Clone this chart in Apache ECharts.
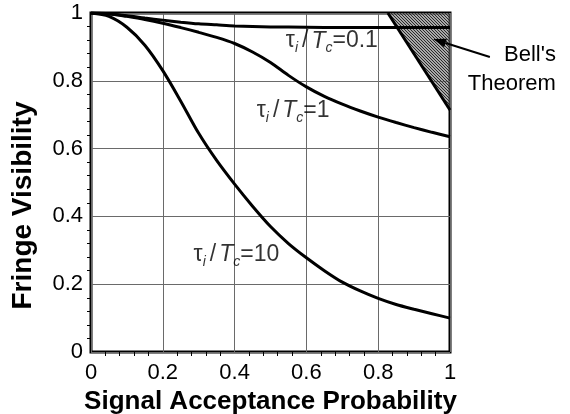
<!DOCTYPE html>
<html><head><meta charset="utf-8">
<script src="https://cdn.jsdelivr.net/npm/echarts@6/dist/echarts.min.js"></script>
<style>html,body{margin:0;padding:0;background:#fff}#c{width:570px;height:414px}</style>
</head><body><div id="c"></div>
<script>
// ---- data ----
const xTicks = [0, 0.2, 0.4, 0.6, 0.8, 1];
const yTicks = [0, 0.2, 0.4, 0.6, 0.8, 1];

const x01 = [0, 0.05, 0.1, 0.15, 0.2, 0.25, 0.3, 0.35, 0.4, 0.5, 0.6, 0.7, 0.8, 0.9, 1];
const v01 = [1, 0.997, 0.992, 0.985, 0.979, 0.973, 0.968, 0.965, 0.962, 0.959, 0.958, 0.957, 0.957, 0.957, 0.957];

const x1 = [0, 0.05, 0.1, 0.15, 0.2, 0.25, 0.3, 0.35, 0.4, 0.45, 0.5, 0.55, 0.6, 0.65, 0.7, 0.75, 0.8, 0.85, 0.9, 0.95, 1];
const v1 = [1, 0.998, 0.99, 0.981, 0.97, 0.957, 0.943, 0.928, 0.91, 0.885, 0.854, 0.816, 0.782, 0.754, 0.731, 0.711, 0.693, 0.677, 0.662, 0.648, 0.635];

const x10 = [0, 0.05, 0.1, 0.15, 0.2, 0.25, 0.3, 0.35, 0.4, 0.45, 0.5, 0.55, 0.6, 0.65, 0.7, 0.75, 0.8, 0.85, 0.9, 0.95, 1];
const v10 = [1, 0.99, 0.958, 0.905, 0.83, 0.74, 0.645, 0.565, 0.495, 0.43, 0.37, 0.32, 0.278, 0.24, 0.206, 0.18, 0.158, 0.14, 0.126, 0.113, 0.10];

const xBell = [0.827, 1];
const vBell = [1, 0.714];

const ratioLabels = ['0.1', '1', '10'];
const labelAnchors = [[0.671, 0.917], [0.563, 0.712], [0.405, 0.287]];

const bellText = ["Bell's", 'Theorem'];
const bellTextAnchors = [[1.295, 0.876], [1.295, 0.792]];
const arrowFrom = [1.111, 0.870];
const arrowTo = [0.953, 0.923];

// ---- helpers ----
const pairs = (xs, ys) => xs.map((x, i) => [x, ys[i]]);

function hatch() {
  const c = document.createElement('canvas');
  c.width = 3; c.height = 3;
  const g = c.getContext('2d');
  g.fillStyle = 'rgba(110,110,110,0.6)';
  g.fillRect(0, 0, 3, 3);
  g.fillStyle = '#2a2a2a';
  for (let i = 0; i < 3; i++) { g.fillRect(i, i, 1, 1); }
  return c;
}

const FONT = '"Liberation Sans", Arial, Helvetica, sans-serif';
const chart = echarts.init(document.getElementById('c'), null, { renderer: 'canvas' });

const lineStyle = { color: '#000', width: 3 };
const richStyles = {
  t: { fontSize: 23, fontFamily: FONT, color: '#000', lineHeight: 28 },
  sl: { fontSize: 23, fontFamily: FONT, color: '#000', lineHeight: 28, padding: [0, 3, 0, 4] },
  it: { fontSize: 23, fontFamily: FONT, fontStyle: 'italic', color: '#000', lineHeight: 28 },
  s: { fontSize: 14, fontFamily: FONT, fontStyle: 'italic', color: '#000', lineHeight: 28, verticalAlign: 'bottom' }
};

const option = {
  animation: false,
  backgroundColor: '#fff',
  grid: { left: 91, right: 120, top: 13, bottom: 62, show: true, borderColor: '#000', borderWidth: 3, backgroundColor: 'transparent', containLabel: false, outerBoundsMode: 'none' },
  xAxis: {
    type: 'value', min: xTicks[0], max: xTicks[xTicks.length - 1], interval: 0.2,
    name: 'Signal Acceptance Probability', nameLocation: 'middle', nameGap: 29,
    nameTextStyle: { fontFamily: FONT, fontWeight: 'bold', fontSize: 26, color: '#000' },
    axisLine: { show: false },
    axisTick: { show: false },
    minorTick: { show: true, splitNumber: 5, length: 4, lineStyle: { color: '#000', width: 1 } },
    splitLine: { show: true, lineStyle: { color: '#6a6a6a', width: 1 } },
    axisLabel: { fontFamily: FONT, fontSize: 22, color: '#000', margin: 10, formatter: v => String(+v.toFixed(1)) }
  },
  yAxis: {
    type: 'value', min: yTicks[0], max: yTicks[yTicks.length - 1], interval: 0.2,
    name: 'Fringe Visibility', nameLocation: 'middle', nameGap: 54,
    nameTextStyle: { fontFamily: FONT, fontWeight: 'bold', fontSize: 28, color: '#000', padding: [0, 46, 0, 0] },
    axisLine: { show: false },
    axisTick: { show: false },
    minorTick: { show: true, splitNumber: 5, length: 4, lineStyle: { color: '#000', width: 1 } },
    splitLine: { show: true, lineStyle: { color: '#6a6a6a', width: 1 } },
    axisLabel: { fontFamily: FONT, fontSize: 22, color: '#000', margin: 8, formatter: v => String(+v.toFixed(1)) }
  },
  series: [
    {
      type: 'line', data: pairs(xBell, vBell), symbol: 'none', lineStyle: lineStyle, z: 2,
      areaStyle: { origin: 'end', color: { image: hatch(), repeat: 'repeat' }, opacity: 1 }
    },
    { type: 'line', data: pairs(x01, v01), smooth: 0.3, symbol: 'none', lineStyle: lineStyle, z: 3 },
    { type: 'line', data: pairs(x1, v1), smooth: 0.3, symbol: 'none', lineStyle: lineStyle, z: 3 },
    { type: 'line', data: pairs(x10, v10), smooth: 0.3, symbol: 'none', lineStyle: lineStyle, z: 3 },
    {
      type: 'scatter', symbolSize: 0, z: 4, silent: true,
      data: labelAnchors.map((p, i) => ({ value: p, r: ratioLabels[i] })),
      label: {
        show: true, position: 'inside',
        formatter: p => '{t|τ}{s|i}{sl|/}{it|T}{s|c}{t|=' + p.data.r + '}',
        rich: richStyles
      }
    }
  ]
};
chart.setOption(option);

// Annotation (arrow + text) positioned through the grid's scales
const P = c => chart.convertToPixel({ gridIndex: 0 }, c);
const a = P(arrowFrom), b = P(arrowTo);
const ang = Math.atan2(b[1] - a[1], b[0] - a[0]);
const hl = 13, hw = 4.5;
const base = [b[0] - hl * Math.cos(ang), b[1] - hl * Math.sin(ang)];
const n = [-Math.sin(ang), Math.cos(ang)];
const graphics = [
  { type: 'line', shape: { x1: a[0], y1: a[1], x2: base[0], y2: base[1] }, style: { stroke: '#000', lineWidth: 2 }, z: 10 },
  { type: 'polygon', shape: { points: [b, [base[0] + n[0] * hw, base[1] + n[1] * hw], [base[0] - n[0] * hw, base[1] - n[1] * hw]] }, style: { fill: '#000' }, z: 10 }
];
bellText.forEach((t, i) => {
  const p = P(bellTextAnchors[i]);
  graphics.push({ type: 'text', x: p[0], y: p[1], style: { text: t, fill: '#000', font: '22px ' + FONT, textAlign: 'right', textVerticalAlign: 'middle' }, z: 10 });
});
chart.setOption({ graphic: graphics });
</script></body></html>
